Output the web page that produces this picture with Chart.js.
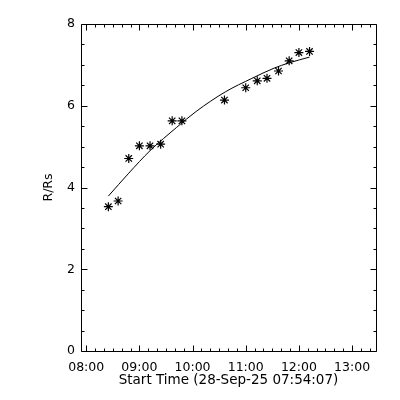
<!DOCTYPE html>
<html>
<head>
<meta charset="utf-8">
<script src="https://cdn.jsdelivr.net/npm/chart.js@4.4.0/dist/chart.umd.min.js"></script>
<style>html,body{margin:0;padding:0;background:#fff}</style>
</head>
<body>
<canvas id="chart" width="400" height="400"></canvas>
<script>
// axis range and labels
var startTime = '07:54:07';
var endTime = '13:27';
var hourTicks = ['08:00', '09:00', '10:00', '11:00', '12:00', '13:00'];
var radiusMin = 0, radiusMax = 8, radiusStep = 2;

// measured heights (R/Rs)
var obsTimes = ['08:25', '08:36', '08:48', '09:00', '09:12', '09:24', '09:37', '09:48',
                '10:36', '11:00', '11:13', '11:24', '11:37', '11:49', '12:00', '12:12'];
var obsHeights = [3.53, 3.67, 4.71, 5.02, 5.02, 5.06, 5.63, 5.63,
                  6.14, 6.44, 6.61, 6.67, 6.85, 7.10, 7.30, 7.33];

// fitted curve
var fitTimes = ['08:25', '08:48', '09:12', '09:42', '10:04', '10:37', '11:07', '11:32', '11:49', '12:12'];
var fitHeights = [3.79, 4.35, 4.90, 5.47, 5.86, 6.34, 6.67, 6.92, 7.05, 7.19];

function hrs(s) {
  var p = s.split(':');
  return +p[0] + (+p[1]) / 60 + (p[2] ? +p[2] / 3600 : 0);
}
function hhmm(v) {
  var t = Math.round(v * 60), h = Math.floor(t / 60), m = t % 60;
  return (h < 10 ? '0' : '') + h + ':' + (m < 10 ? '0' : '') + m;
}
function pts(times, vals) {
  return times.map(function (t, i) { return {x: hrs(t), y: vals[i]}; });
}

var font = {family: 'DejaVu Sans', size: 12.5};

// box with inward ticks on all four sides, like the IDL plot
var frameTicks = {
  id: 'frameTicks',
  afterDatasetsDraw: function (chart) {
    var a = chart.chartArea, xs = chart.scales.x, ys = chart.scales.y, c = chart.ctx;
    var L = Math.round(a.left) + 0.5, R = Math.round(a.right) + 0.5;
    var T = Math.round(a.top) + 0.5, B = Math.round(a.bottom) + 0.5;
    c.save();
    c.strokeStyle = '#000';
    c.lineWidth = 1;
    c.beginPath();
    c.rect(L, T, R - L, B - T);
    var m0 = Math.ceil(xs.min * 6) * 10;
    for (var m = m0; m <= xs.max * 60; m += 10) {
      var len = (m % 60 === 0) ? 6 : 3;
      var px = Math.round(xs.getPixelForValue(m / 60)) + 0.5;
      c.moveTo(px, B); c.lineTo(px, B - len);
      c.moveTo(px, T); c.lineTo(px, T + len);
    }
    for (var v = radiusMin; v <= radiusMax; v += 0.5) {
      var l2 = (v % radiusStep === 0) ? 6 : 3;
      var py = Math.round(ys.getPixelForValue(v)) + 0.5;
      c.moveTo(L, py); c.lineTo(L + l2, py);
      c.moveTo(R, py); c.lineTo(R - l2, py);
    }
    c.stroke();
    c.restore();
  }
};

new Chart(document.getElementById('chart').getContext('2d'), {
  type: 'scatter',
  data: {
    datasets: [{
      label: 'fit',
      data: pts(fitTimes, fitHeights),
      showLine: true,
      borderColor: '#000',
      borderWidth: 1,
      pointRadius: 0,
      cubicInterpolationMode: 'monotone',
      fill: false
    }, {
      label: 'R/Rs',
      data: pts(obsTimes, obsHeights),
      pointStyle: 'star',
      pointRadius: 4.5,
      borderColor: '#000',
      backgroundColor: '#000',
      borderWidth: 1.2
    }]
  },
  options: {
    responsive: false,
    animation: false,
    layout: {padding: {top: 24, right: 24, left: 0, bottom: 0}},
    plugins: {legend: {display: false}, tooltip: {enabled: false}},
    scales: {
      x: {
        type: 'linear',
        min: hrs(startTime),
        max: hrs(endTime),
        grid: {display: false, drawTicks: false},
        border: {display: false},
        afterBuildTicks: function (s) {
          s.ticks = hourTicks.map(function (t) { return {value: hrs(t)}; });
        },
        afterFit: function (s) { s.height = 49; },
        ticks: {
          color: '#000', font: font, padding: 9, maxRotation: 0, autoSkip: false,
          callback: function (v) { return hhmm(v); }
        },
        title: {
          display: true,
          text: 'Start Time (28-Sep-25 07:54:07)',
          color: '#000', font: {family: 'DejaVu Sans', size: 13.5},
          padding: {top: 0, bottom: 11}
        }
      },
      y: {
        min: radiusMin,
        max: radiusMax,
        grid: {display: false, drawTicks: false},
        border: {display: false},
        afterFit: function (s) { s.width = 81; },
        ticks: {color: '#000', font: font, padding: 6, stepSize: radiusStep},
        title: {
          display: true,
          text: 'R/Rs',
          color: '#000', font: font,
          padding: {top: 41, bottom: 0}
        }
      }
    }
  },
  plugins: [frameTicks]
});
</script>
</body>
</html>
